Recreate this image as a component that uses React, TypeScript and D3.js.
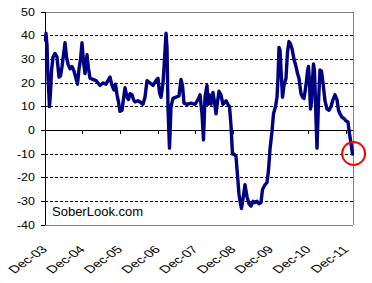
import React from 'react';
import * as d3 from 'd3';

// decimal years (Dec-03 = 2003.917)
const dates: number[] = [
  2003.930, 2003.943, 2003.970, 2003.997, 2004.036, 2004.063, 2004.089, 2004.129, 2004.182, 2004.235,
  2004.288, 2004.328, 2004.368, 2004.448, 2004.487, 2004.527, 2004.580, 2004.633, 2004.686, 2004.739,
  2004.779, 2004.819, 2004.859, 2004.898, 2004.938, 2004.978, 2005.031, 2005.071, 2005.111, 2005.190,
  2005.270, 2005.323, 2005.376, 2005.455, 2005.535, 2005.641, 2005.694, 2005.747, 2005.787, 2005.827,
  2005.867, 2005.906, 2005.959, 2006.039, 2006.092, 2006.132, 2006.172, 2006.225, 2006.264, 2006.304,
  2006.384, 2006.437, 2006.516, 2006.569, 2006.623, 2006.702, 2006.782, 2006.861, 2006.914, 2006.954,
  2006.994, 2007.047, 2007.087, 2007.127, 2007.153, 2007.180, 2007.219, 2007.259, 2007.312, 2007.392,
  2007.471, 2007.524, 2007.564, 2007.604, 2007.684, 2007.790, 2007.896, 2007.975, 2008.028, 2008.081,
  2008.121, 2008.161, 2008.214, 2008.241, 2008.280, 2008.320, 2008.373, 2008.413, 2008.453, 2008.493,
  2008.532, 2008.585, 2008.638, 2008.718, 2008.771, 2008.811, 2008.851, 2008.890, 2008.930, 2008.983,
  2009.023, 2009.063, 2009.103, 2009.129, 2009.169, 2009.222, 2009.275, 2009.328, 2009.381, 2009.434,
  2009.487, 2009.540, 2009.593, 2009.646, 2009.686, 2009.753, 2009.806, 2009.845, 2009.885, 2009.938,
  2009.978, 2010.031, 2010.071, 2010.097, 2010.124, 2010.150, 2010.190, 2010.217, 2010.257, 2010.310,
  2010.349, 2010.389, 2010.429, 2010.469, 2010.522, 2010.575, 2010.615, 2010.654, 2010.707, 2010.747,
  2010.787, 2010.840, 2010.880, 2010.906, 2010.933, 2010.959, 2010.986, 2011.012, 2011.039, 2011.066,
  2011.105, 2011.132, 2011.172, 2011.211, 2011.251, 2011.291, 2011.344, 2011.397, 2011.450, 2011.503,
  2011.556, 2011.609, 2011.662, 2011.702, 2011.742, 2011.795, 2011.848, 2011.901, 2011.954, 2011.994,
  2012.034, 2012.073,
];

const values: number[] = [
  38, 41, 36, 22, 10, 16, 25, 31, 32.5, 31,
  22.5, 23, 27, 37, 31, 28, 26, 27, 25, 22,
  19.5, 26, 30, 37, 29, 24, 32, 26, 22, 21.5,
  21, 20, 19, 20, 19.5, 22.5, 19, 17, 19.5, 15,
  12, 8, 8.5, 18, 14, 13, 15.5, 15, 13, 12,
  12.5, 12, 11, 14, 21, 20, 19, 21, 22, 16,
  14, 20, 30, 41, 35, 9, -7.5, 10, 13.5, 14,
  14.5, 21.5, 19, 11.5, 11, 11.5, 11, 13, 15, 7,
  -4, 14, 19, 11, 15, 11, 16, 12, 7, 12,
  16.5, 15, 11, 12.5, 11, 10, 2, -10, -10, -11,
  -19, -27, -31, -33, -29, -23, -28, -31, -32, -30,
  -30.5, -30, -31, -30.5, -25, -23, -22, -17, -8, -0.5,
  7, 10, 14, 22, 35, 34, 22, 14, 19, 22,
  33, 37.5, 36.5, 34.5, 30, 27, 24, 22, 15.5, 14,
  13.5, 19, 25, 27, 20, 9, 12, 21, 28, 25,
  5, -7.5, 12, 25.5, 25, 20, 12.5, 9, 8.5, 10,
  13, 15, 13, 8.5, 7, 5.5, 5, 4, 3.5, -1.5,
  -5.5, -10,
];

const tickYears: number[] = [2003, 2004, 2005, 2006, 2007, 2008, 2009, 2010, 2011];
const tickLabels: string[] = ['Dec-03', 'Dec-04', 'Dec-05', 'Dec-06', 'Dec-07', 'Dec-08', 'Dec-09', 'Dec-10', 'Dec-11'];
const yTicks: number[] = [50, 40, 30, 20, 10, 0, -10, -20, -30, -40];
const gridValues: number[] = [40, 30, 20, 10, -10, -20, -30];
const highlight = { date: 2012.09, value: -10 };
const watermark = 'SoberLook.com';

export default function App() {
  const W = 372;
  const H = 283;
  const x = d3.scaleLinear().domain([2003 + 11 / 12, 2012.087]).range([45, 353]);
  const y = d3.scaleLinear().domain([-40, 50]).range([225, 12]);
  const pts: [number, number][] = dates.map((d, i) => [x(d), y(values[i])]);
  const path = d3.line()(pts) || '';
  const [x0, x1] = x.range();
  const [yb, yt] = y.range();
  const font = 'Arial, "Liberation Sans", sans-serif';

  return (
    <svg width={W} height={H} style={{ position: 'absolute', left: 0, top: 0, background: '#fff' }}>
      <rect x={0} y={0} width={W} height={H} fill="#fff" />
      {gridValues.map((g) => (
        <line key={g} x1={x0} x2={x1} y1={y(g)} y2={y(g)} stroke="#000" strokeWidth={1} strokeDasharray="3,2" shapeRendering="crispEdges" />
      ))}
      <line x1={x0} x2={x1} y1={yt} y2={yt} stroke="#808080" strokeWidth={1} shapeRendering="crispEdges" />
      <line x1={x0} x2={x1} y1={yb} y2={yb} stroke="#808080" strokeWidth={1} shapeRendering="crispEdges" />
      <line x1={x1} x2={x1} y1={yt} y2={yb} stroke="#808080" strokeWidth={1} shapeRendering="crispEdges" />
      <line x1={x0} x2={x1} y1={y(0)} y2={y(0)} stroke="#000" strokeWidth={1} shapeRendering="crispEdges" />
      {tickYears.map((t) => (
        <line key={t} x1={x(t + 11 / 12)} x2={x(t + 11 / 12)} y1={y(0)} y2={y(0) + 4} stroke="#000" strokeWidth={1} shapeRendering="crispEdges" />
      ))}
      <line x1={x0} x2={x0} y1={yt} y2={yb} stroke="#000" strokeWidth={1} shapeRendering="crispEdges" />
      {yTicks.map((v) => (
        <g key={v}>
          <line x1={x0 - 4} x2={x0} y1={y(v)} y2={y(v)} stroke="#000" strokeWidth={1} shapeRendering="crispEdges" />
          <text transform={`translate(${x0 - 10},${y(v) + 3.6}) scale(1.25,1)`} textAnchor="end" fontFamily={font} fontSize={10} fill="#000">
            {v}
          </text>
        </g>
      ))}
      {tickYears.map((t, i) => (
        <text key={t} transform={`translate(${x(t + 11 / 12) + 3},250) scale(1.4,1) rotate(-45)`} textAnchor="end" fontFamily={font} fontSize={10.5} fill="#000">
          {tickLabels[i]}
        </text>
      ))}
      <path d={path} fill="none" stroke="#000080" strokeWidth={3.4} strokeLinejoin="round" strokeLinecap="round" />
      <text x={52} y={216} fontFamily={font} fontSize={13} fill="#000">{watermark}</text>
      <circle cx={x(highlight.date) + 0.5} cy={y(highlight.value) - 0.5} r={11.5} fill="none" stroke="#ff0000" strokeWidth={2} />
    </svg>
  );
}
